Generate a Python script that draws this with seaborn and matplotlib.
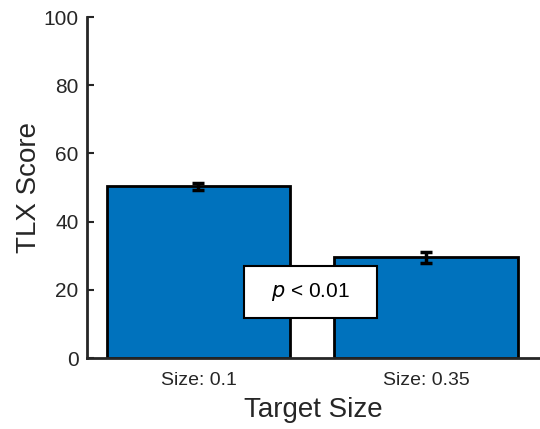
import matplotlib
matplotlib.use("Agg")
import matplotlib.pyplot as plt
from matplotlib.patches import Rectangle
import seaborn as sns
import pandas as pd

# values
categories = ["Size: 0.1", "Size: 0.35"]
tlx_mean = [50.4, 29.6]
tlx_err = [1.0, 1.6]
# annotation box (data coords)
p_box = (0.20, 11.7, 0.585, 15.3)

sns.set_theme(style="white")
plt.rcParams["font.family"] = ["Liberation Sans", "DejaVu Sans"]
text_color = "#262626"

df = pd.DataFrame({"size": categories, "score": tlx_mean})

fig = plt.figure(figsize=(5.4, 4.29), dpi=100)
ax = fig.add_axes([0.161, 0.1655, 0.839, 0.7945])

sns.barplot(data=df, x="size", y="score", color="#0072BD", saturation=1,
            width=0.807, edgecolor="black", linewidth=2, ax=ax)
ax.errorbar(range(len(categories)), tlx_mean, yerr=tlx_err, fmt="none",
            ecolor="black", elinewidth=2.5, capsize=4.5, capthick=2.5)

ax.set_ylim(0, 100)
ax.set_xlim(-0.49, 1.5)
ax.set_yticks([0, 20, 40, 60, 80, 100])
ax.set_xlabel("Target Size", fontsize=20, color=text_color, labelpad=6)
ax.set_ylabel("TLX Score", fontsize=20, color=text_color, labelpad=1)
ax.tick_params(axis="y", direction="in", length=5, width=1.5, labelsize=15,
               colors=text_color, left=True, pad=6)
ax.tick_params(axis="x", direction="in", length=4, width=1.2, labelsize=14,
               colors=text_color, bottom=True, pad=10)
for lbl in ax.get_yticklabels() + ax.get_xticklabels():
    lbl.set_color(text_color)
sns.despine(ax=ax)
for side in ["left", "bottom"]:
    ax.spines[side].set_linewidth(2)
    ax.spines[side].set_color("#262626")

bx, by, bw, bh = p_box
ax.add_patch(Rectangle((bx, by), bw, bh, facecolor="white", edgecolor="black",
                       linewidth=1.5, zorder=5))
ax.text(bx + bw / 2, by + bh / 2, r"$\it{p}$ < 0.01", fontsize=15,
        color="black", ha="center", va="center", zorder=6)

fig.savefig("out.png", dpi=100)
